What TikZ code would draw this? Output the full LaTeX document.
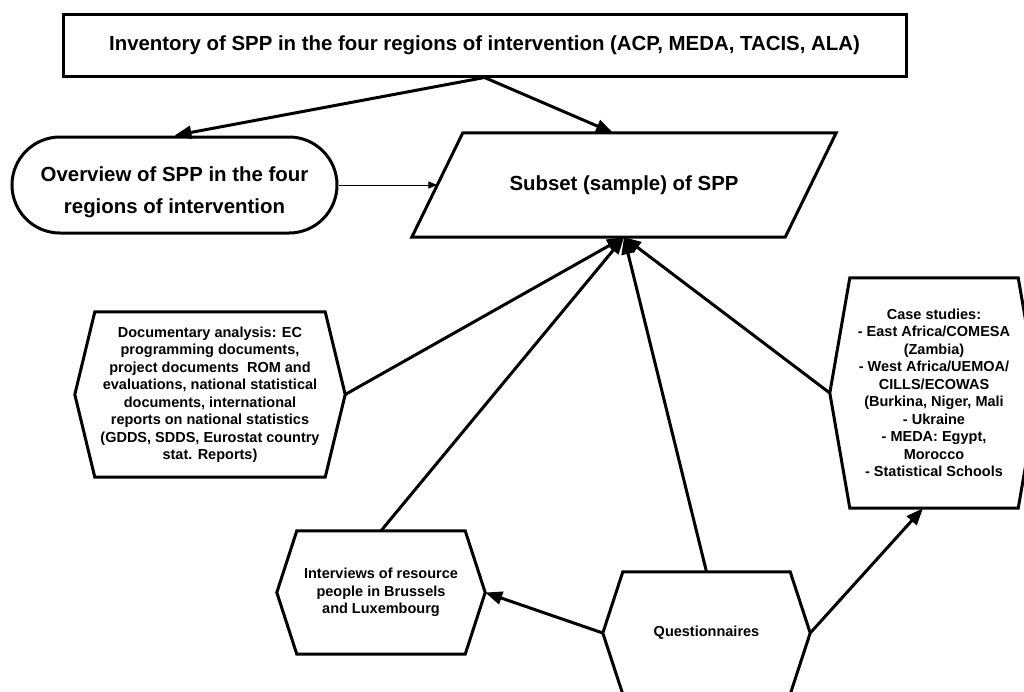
\documentclass[tikz,border=0pt]{standalone}
\usepackage{fontspec}
\setmainfont{Liberation Sans}
\usetikzlibrary{arrows.meta}

\begin{document}
\begin{tikzpicture}[
  x=1pt, y=-1pt,
  bigtext/.style={inner sep=0pt, align=center, font=\bfseries\fontsize{20.4}{32}\selectfont},
  smalltext/.style={inner sep=0pt, align=center, font=\bfseries\fontsize{14.5}{17.5}\selectfont},
  link/.style={line width=3pt, -{Triangle[length=17pt,width=13pt]}},
  thinlink/.style={line width=1pt, -{Triangle[length=9pt,width=7pt]}},
]
\useasboundingbox (0,0) rectangle (1024,691);
\clip (0,0) rectangle (1024,691);
\node[bigtext, draw, line width=3pt, minimum width=843pt, minimum height=62pt] (inv) at (484.5,45)
  {Inventory of SPP in the four regions of intervention (ACP, MEDA, TACIS, ALA)};
\node[draw, line width=3pt, rounded corners=48pt, minimum width=325pt, minimum height=96pt] (ovw) at (174.5,185) {};
\node[bigtext] (ovwtext) at (174.5,192) {Overview of SPP in the four\\regions of intervention};
\node[bigtext, minimum width=373pt, minimum height=104pt] (sub) at (624,185) {Subset (sample) of SPP};
\node[smalltext, minimum width=270pt, minimum height=165pt] (doc) at (210,394.5)
  {Documentary analysis: EC\\programming documents,\\project documents~ ROM and\\evaluations, national statistical\\documents, international\\reports on national statistics\\(GDDS, SDDS, Eurostat country\\stat. Reports)};
\node[smalltext, minimum width=208pt, minimum height=230pt] (cases) at (934,393)
  {Case studies:\\- East Africa/COMESA\\(Zambia)\\- West Africa/UEMOA/\\CILLS/ECOWAS\\(Burkina, Niger, Mali\\- Ukraine\\- MEDA: Egypt,\\Morocco\\- Statistical Schools};
\node[smalltext, minimum width=208pt, minimum height=123pt] (intv) at (381,592.5)
  {Interviews of resource\\people in Brussels\\and Luxembourg};
\node[smalltext, minimum width=207pt, minimum height=122pt] (quest) at (706.5,633) {Questionnaires};

\draw[line width=3pt] ([xshift=-25.5pt]sub.south west) -- ([xshift=25.5pt]sub.north west)
  -- ([xshift=25.5pt]sub.north east) -- ([xshift=-25.5pt]sub.south east) -- cycle;
\foreach \n in {doc,cases,intv,quest}
  \draw[line width=3pt] (\n.west) -- ([xshift=20pt]\n.north west) -- ([xshift=-20pt]\n.north east)
    -- (\n.east) -- ([xshift=-20pt]\n.south east) -- ([xshift=20pt]\n.south west) -- cycle;

\draw[link] (inv.south) -- (ovw.north);
\draw[link] (inv.south) -- ([xshift=-11pt]sub.north);
\draw[thinlink] (ovw.east) -- (sub.west);
\foreach \n/\a in {doc/east,intv/north,quest/north,cases/west}
  \draw[link] (\n.\a) -- (sub.south);
\draw[link] (quest.west) -- (intv.east);
\draw[link] (quest.east) -- ([xshift=-11pt]cases.south);
\end{tikzpicture}
\end{document}
